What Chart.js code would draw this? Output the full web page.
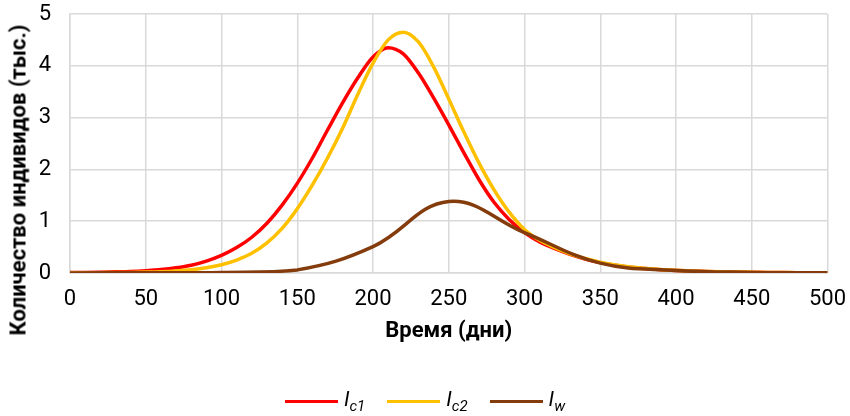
<!DOCTYPE html>
<html>
<head>
<meta charset="utf-8">
<script src="https://cdn.jsdelivr.net/npm/chart.js@4.4.1/dist/chart.umd.min.js"></script>
<style>
  body { margin: 0; background: #fff; }
  #wrap { position: relative; width: 850px; height: 416px; font-family: Roboto, "Noto Sans", sans-serif; }
  #ytitle {
    position: absolute; left: 18px; top: 180px;
    transform: translate(-50%, -50%) rotate(-90deg);
    white-space: nowrap; font-weight: bold; font-size: 22px; color: #000;
  }
  #legend {
    position: absolute; left: 0; width: 850px; top: 387px;
    display: flex; justify-content: center; font-size: 21px; color: #000;
  }
  .item { display: flex; align-items: center; margin: 0 11px; }
  .sw { display: inline-block; width: 53px; height: 3px; margin-right: 6px; }
  .item i sub { font-size: 15px; }
</style>
</head>
<body>
<div id="wrap">
  <canvas id="myChart" width="850" height="416"></canvas>
  <div id="ytitle">Количество индивидов (тыс.)</div>
  <div id="legend">
    <span class="item"><span class="sw" style="background:#ff0000"></span><i>I<sub>c1</sub></i></span>
    <span class="item"><span class="sw" style="background:#ffc000"></span><i>I<sub>c2</sub></i></span>
    <span class="item"><span class="sw" style="background:#843c0c"></span><i>I<sub>w</sub></i></span>
  </div>
</div>
<script>
// days for the two dense series (every 10 days)
const days = [0,10,20,30,40,50,60,70,80,90,100,110,120,130,140,150,160,170,180,190,200,
  210,220,230,240,250,260,270,280,290,300,310,320,330,340,350,360,370,380,390,400,
  410,420,430,440,450,460,470,480,490,500];

// Ic1 (тыс.)
const ic1 = [0.01,0.012,0.016,0.022,0.03,0.045,0.066,0.1,0.15,0.23,0.34,0.49,0.69,0.96,1.31,1.73,2.22,2.76,3.29,3.77,4.17,
  4.35,4.23,3.86,3.38,2.86,2.32,1.8,1.36,1.03,0.78,0.6,0.47,0.36,0.27,0.2,0.15,0.11,0.085,0.065,0.05,
  0.04,0.03,0.024,0.018,0.014,0.011,0.008,0.006,0.005,0.004];

// Ic2 (тыс.)
const ic2 = [0.004,0.005,0.007,0.009,0.012,0.018,0.026,0.04,0.062,0.1,0.16,0.25,0.38,0.58,0.86,1.24,1.7,2.22,2.8,3.45,4.05,
  4.5,4.65,4.46,3.98,3.36,2.72,2.12,1.6,1.17,0.84,0.63,0.49,0.37,0.28,0.21,0.155,0.115,0.088,0.067,0.052,
  0.04,0.031,0.024,0.019,0.014,0.011,0.009,0.007,0.005,0.004];

// Iw is sampled every 50 days
const daysW = [0,50,100,150,200,250,300,350,400,450,500];
const iw = [0.002,0.005,0.012,0.06,0.51,1.38,0.78,0.19,0.05,0.012,0.003];

const xTicks = [0,50,100,150,200,250,300,350,400,450,500];
const yTicks = [0,1,2,3,4,5];

function pts(xs, ys) {
  return xs.map((x, i) => ({x: x, y: ys[i]}));
}

const gridColor = '#d9d9d9';
const ctx = document.getElementById('myChart').getContext('2d');
const chart = new Chart(ctx, {
  type: 'line',
  data: {
    datasets: [
      { label: 'Ic1', data: pts(days, ic1), borderColor: '#ff0000', borderWidth: 3.5, cubicInterpolationMode: 'monotone', order: 2 },
      { label: 'Ic2', data: pts(days, ic2), borderColor: '#ffc000', borderWidth: 3.5, cubicInterpolationMode: 'monotone', order: 1 },
      { label: 'Iw', data: pts(daysW, iw), borderColor: '#843c0c', borderWidth: 3.5, tension: 0.4, order: 0 }
    ]
  },
  options: {
    responsive: false,
    animation: false,
    elements: { point: { radius: 0 } },
    layout: { padding: { left: 0, top: 14, right: 22.5, bottom: 67 } },
    plugins: { legend: { display: false }, tooltip: { enabled: false } },
    scales: {
      x: {
        type: 'linear', min: 0, max: 500,
        afterBuildTicks: s => { s.ticks = xTicks.map(v => ({value: v})); },
        afterFit: s => { s.height = 76; s.paddingLeft = 0; s.paddingRight = 0; },
        ticks: { font: { family: 'Roboto', size: 22 }, color: '#000', padding: 13, maxRotation: 0 },
        grid: { color: gridColor, lineWidth: 1.5, drawTicks: false },
        border: { color: gridColor, width: 1.5 },
        title: { display: true, text: 'Время (дни)', color: '#000', font: { family: 'Roboto', size: 22, weight: 'bold' } }
      },
      y: {
        min: 0, max: 5,
        afterBuildTicks: s => { s.ticks = yTicks.map(v => ({value: v})); },
        afterFit: s => { s.width = 70; s.paddingTop = 0; s.paddingBottom = 0; },
        ticks: { font: { family: 'Roboto', size: 22 }, color: '#000', padding: 19 },
        grid: { color: gridColor, lineWidth: 1.5, drawTicks: false },
        border: { color: gridColor, width: 1.5 }
      }
    }
  }
});
</script>
</body>
</html>
